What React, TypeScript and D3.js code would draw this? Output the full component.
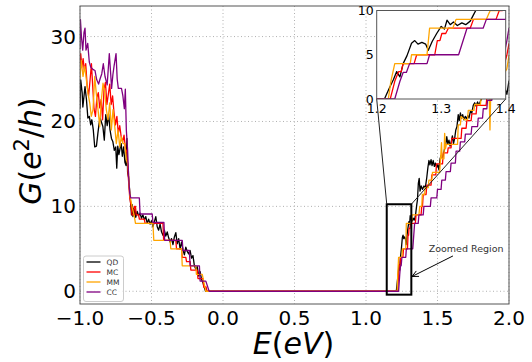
import React from "react";
import * as d3 from "d3";

type P = [number, number];

const xTicks = [-1.0, -0.5, 0.0, 0.5, 1.0, 1.5, 2.0];
const yTicks = [0, 10, 20, 30];
const insetXTicks = [1.2, 1.3, 1.4];
const insetYTicks = [0, 5, 10];
const xDomain: [number, number] = [-1, 2];
const yDomain: [number, number] = [-1.5, 33.6];
const insetXDomain: [number, number] = [1.2, 1.4];
const insetYDomain: [number, number] = [0, 10];

const seriesNames = ["QD", "MC", "MM", "CC"];
const seriesColors = ["black", "red", "orange", "purple"];

const qd: P[] = [
  [-1.0, 21.5], [-0.995, 24.9], [-0.985, 23.4], [-0.98, 21.7], [-0.972, 23.0], [-0.965, 24.1], [-0.955, 22.6],
  [-0.945, 20.4], [-0.935, 20.6], [-0.925, 19.6], [-0.917, 20.2], [-0.907, 19.0], [-0.897, 17.0], [-0.885, 17.1],
  [-0.875, 18.6], [-0.866, 19.8], [-0.858, 20.4], [-0.85, 19.9], [-0.84, 19.4], [-0.83, 17.8], [-0.82, 20.8],
  [-0.81, 19.5], [-0.8, 20.9], [-0.79, 19.0], [-0.78, 18.0], [-0.77, 17.6], [-0.76, 16.6], [-0.75, 17.0],
  [-0.743, 14.5], [-0.736, 17.1], [-0.728, 16.1], [-0.72, 16.8], [-0.712, 17.4], [-0.704, 15.9], [-0.695, 17.0],
  [-0.686, 15.2], [-0.678, 14.8], [-0.672, 18.0], [-0.667, 14.0], [-0.66, 13.4], [-0.653, 11.9], [-0.646, 10.4],
  [-0.64, 9.0], [-0.635, 10.2], [-0.63, 8.8], [-0.625, 9.8], [-0.62, 9.0], [-0.615, 9.6], [-0.61, 8.7],
  [-0.6, 9.4], [-0.59, 8.9], [-0.58, 9.2], [-0.57, 8.6], [-0.56, 9.0], [-0.55, 8.4], [-0.54, 8.8], [-0.53, 8.0],
  [-0.52, 8.5], [-0.51, 7.9], [-0.5, 8.3], [-0.49, 7.6], [-0.48, 8.2], [-0.47, 8.8], [-0.46, 7.6], [-0.45, 7.2],
  [-0.44, 7.9], [-0.43, 7.0], [-0.42, 6.6], [-0.41, 7.2], [-0.4, 6.5], [-0.39, 7.0], [-0.38, 6.3], [-0.37, 5.8],
  [-0.36, 6.2], [-0.35, 5.5], [-0.34, 6.4], [-0.33, 6.9], [-0.32, 5.6], [-0.31, 6.2], [-0.3, 5.0], [-0.29, 5.8],
  [-0.28, 4.9], [-0.27, 4.3], [-0.26, 5.2], [-0.25, 4.7], [-0.24, 4.4], [-0.23, 4.8], [-0.22, 3.9], [-0.21, 4.2],
  [-0.2, 3.0], [-0.19, 2.6], [-0.18, 2.9], [-0.17, 1.8], [-0.16, 2.3], [-0.15, 1.4], [-0.14, 1.0], [-0.13, 0.4],
  [-0.122, 0], [1.212, 0],
  [1.22, 1.3], [1.226, 2.2], [1.231, 3.1], [1.236, 2.5], [1.241, 4.0], [1.247, 4.9], [1.254, 6.3], [1.259, 6.6],
  [1.264, 6.2], [1.27, 6.4], [1.276, 6.2], [1.28, 5.5], [1.286, 6.5], [1.293, 7.4], [1.3, 8.2], [1.305, 7.9],
  [1.309, 8.9], [1.314, 8.4], [1.319, 8.7], [1.325, 8.3], [1.332, 8.6], [1.338, 8.4], [1.345, 8.8], [1.35, 9.5],
  [1.355, 10.2], [1.36, 10.8], [1.366, 12.7], [1.372, 13.3], [1.378, 11.8], [1.386, 12.4], [1.395, 12.0],
  [1.405, 12.4], [1.415, 12.2], [1.425, 13.4], [1.433, 14.6], [1.44, 15.4], [1.447, 14.9], [1.455, 15.5],
  [1.462, 14.8], [1.47, 15.4], [1.478, 14.7], [1.486, 15.1], [1.494, 14.6], [1.502, 14.9], [1.51, 14.3],
  [1.518, 15.6], [1.526, 16.0], [1.534, 15.7], [1.542, 16.2], [1.55, 16.8], [1.558, 17.4], [1.565, 18.2],
  [1.572, 17.3], [1.58, 17.8], [1.588, 17.1], [1.596, 17.6], [1.604, 18.3], [1.612, 17.4], [1.62, 18.0],
  [1.628, 19.0], [1.636, 19.4], [1.645, 20.8], [1.652, 20.1], [1.66, 21.0], [1.668, 20.4], [1.676, 20.8],
  [1.685, 20.2], [1.694, 20.6], [1.703, 20.3], [1.712, 20.7], [1.72, 20.4], [1.73, 21.2], [1.74, 21.0],
  [1.75, 21.9], [1.76, 22.2], [1.77, 21.8], [1.78, 22.3], [1.79, 21.9], [1.8, 22.4], [1.81, 22.7], [1.83, 23.3],
  [1.86, 24.0], [1.9, 24.6], [1.94, 25.4], [1.97, 24.0], [1.985, 23.2], [2.0, 24.8],
];

const mc: P[] = [
  [-1.0, 26.5], [-0.995, 28.0], [-0.987, 26.4], [-0.978, 27.4], [-0.97, 26.0], [-0.96, 26.8], [-0.95, 24.2],
  [-0.94, 23.0], [-0.93, 24.8], [-0.92, 26.8], [-0.912, 24.4], [-0.902, 21.5], [-0.892, 20.6], [-0.882, 22.8],
  [-0.872, 23.4], [-0.862, 21.6], [-0.852, 22.6], [-0.842, 20.2], [-0.832, 23.8], [-0.822, 24.6], [-0.812, 22.0],
  [-0.802, 23.2], [-0.792, 24.4], [-0.782, 22.0], [-0.772, 23.0], [-0.762, 21.0], [-0.752, 19.6], [-0.742, 20.6],
  [-0.732, 18.6], [-0.722, 19.5], [-0.712, 18.2], [-0.702, 17.6], [-0.692, 18.4], [-0.682, 16.8], [-0.672, 16.4],
  [-0.662, 13.4], [-0.652, 11.0], [-0.642, 10.0], [-0.636, 9.0], [-0.625, 9.0], [-0.62, 10.0], [-0.612, 10.0],
  [-0.607, 9.0], [-0.59, 9.0], [-0.585, 8.5], [-0.55, 8.5], [-0.545, 8.0], [-0.42, 8.0], [-0.415, 6.0],
  [-0.33, 6.0], [-0.325, 5.0], [-0.29, 5.0], [-0.285, 4.0], [-0.26, 4.0], [-0.255, 3.5], [-0.23, 3.5],
  [-0.225, 2.5], [-0.18, 2.5], [-0.175, 1.5], [-0.14, 1.5], [-0.135, 0.5], [-0.118, 0.5], [-0.112, 0],
  [1.221, 0],
  [1.228, 2.0], [1.234, 3.1], [1.238, 3.1], [1.241, 4.0], [1.258, 4.0], [1.262, 5.0], [1.29, 5.0], [1.294, 6.6],
  [1.298, 6.6], [1.301, 7.4], [1.307, 7.4], [1.311, 8.0], [1.345, 8.0], [1.35, 9.0], [1.385, 9.0], [1.39, 10.0],
  [1.395, 10.0], [1.4, 11.4], [1.42, 11.4], [1.425, 12.5], [1.455, 12.5], [1.46, 13.7], [1.488, 13.7],
  [1.493, 15.0], [1.535, 15.0], [1.54, 16.3], [1.57, 16.3], [1.575, 16.9], [1.595, 16.9], [1.6, 18.0],
  [1.665, 18.0], [1.67, 19.2], [1.7, 19.2], [1.705, 20.1], [1.735, 20.1], [1.74, 20.9], [1.77, 20.9],
  [1.775, 21.9], [1.84, 21.9], [1.845, 22.8], [1.9, 24.0], [1.95, 25.8], [1.985, 27.8], [2.0, 29.2],
];

const mm: P[] = [
  [-1.0, 25.0], [-0.998, 25.7], [-0.991, 27.2], [-0.979, 25.3], [-0.967, 26.5], [-0.956, 25.0], [-0.944, 23.3],
  [-0.932, 22.2], [-0.921, 20.6], [-0.909, 21.4], [-0.897, 25.3], [-0.886, 23.3], [-0.874, 21.4], [-0.862, 19.4],
  [-0.851, 22.5], [-0.839, 24.5], [-0.827, 23.5], [-0.816, 21.4], [-0.804, 20.2], [-0.792, 22.2], [-0.781, 19.0],
  [-0.769, 21.4], [-0.757, 19.4], [-0.746, 17.4], [-0.734, 19.0], [-0.722, 17.0], [-0.711, 18.2], [-0.699, 17.4],
  [-0.687, 17.4], [-0.676, 15.5], [-0.664, 14.9], [-0.652, 11.4], [-0.641, 10.4], [-0.63, 9.5], [-0.622, 9.0],
  [-0.612, 8.0], [-0.49, 8.0], [-0.484, 6.0], [-0.37, 6.0], [-0.365, 5.0], [-0.29, 5.0], [-0.285, 3.0],
  [-0.19, 3.0], [-0.186, 2.0], [-0.145, 2.0], [-0.12, 0],
  [1.218, 0],
  [1.222, 2.0], [1.228, 4.0], [1.252, 4.0], [1.254, 5.0], [1.278, 5.0], [1.282, 8.0], [1.318, 8.0], [1.323, 9.0],
  [1.37, 9.0], [1.376, 10.0], [1.39, 10.0], [1.394, 11.4], [1.41, 11.4], [1.414, 12.2], [1.435, 12.2],
  [1.44, 13.1], [1.46, 13.1], [1.465, 14.0], [1.515, 14.0], [1.52, 15.2], [1.528, 17.5], [1.532, 15.6],
  [1.545, 15.6], [1.55, 18.6], [1.556, 16.8], [1.562, 17.3], [1.64, 17.3], [1.645, 19.6], [1.66, 19.6],
  [1.665, 20.6], [1.69, 20.2], [1.71, 20.2], [1.715, 21.3], [1.755, 21.3], [1.76, 22.0], [1.8, 22.0],
  [1.805, 22.8], [1.862, 22.8], [1.867, 19.0], [1.872, 23.2], [1.92, 24.2], [1.96, 25.5], [1.985, 26.2],
  [2.0, 27.8],
];

const cc: P[] = [
  [-1.0, 28.5], [-0.997, 32.0], [-0.99, 30.0], [-0.981, 28.4], [-0.972, 30.5], [-0.965, 31.0], [-0.958, 28.4],
  [-0.946, 29.2], [-0.935, 27.0], [-0.925, 26.4], [-0.907, 26.1], [-0.895, 26.0], [-0.883, 24.9], [-0.87, 24.4],
  [-0.86, 25.0], [-0.848, 25.6], [-0.837, 26.8], [-0.825, 25.3], [-0.81, 24.3], [-0.795, 28.0], [-0.785, 25.5],
  [-0.779, 23.9], [-0.77, 25.5], [-0.762, 26.5], [-0.748, 28.0], [-0.74, 25.0], [-0.732, 23.9], [-0.71, 23.9],
  [-0.7, 23.0], [-0.69, 21.5], [-0.683, 23.8], [-0.676, 19.0], [-0.667, 16.6], [-0.66, 13.5], [-0.652, 11.5],
  [-0.645, 11.0], [-0.585, 11.0], [-0.58, 9.1], [-0.495, 9.1], [-0.49, 8.1], [-0.413, 8.1], [-0.408, 6.0],
  [-0.285, 6.0], [-0.28, 4.8], [-0.235, 4.8], [-0.23, 3.0], [-0.165, 3.0], [-0.16, 1.2], [-0.12, 1.2],
  [-0.097, 0],
  [1.228, 0],
  [1.236, 2.0], [1.241, 3.0], [1.246, 3.0], [1.251, 4.0], [1.278, 4.0], [1.282, 5.0], [1.327, 5.0], [1.34, 8.0],
  [1.365, 8.0], [1.37, 9.0], [1.4, 9.0], [1.405, 10.0], [1.45, 10.0], [1.455, 11.0], [1.495, 11.0], [1.5, 12.0],
  [1.525, 12.0], [1.53, 13.1], [1.555, 13.1], [1.56, 14.1], [1.59, 14.1], [1.595, 15.1], [1.625, 15.1],
  [1.63, 16.5], [1.655, 16.5], [1.66, 17.6], [1.69, 17.6], [1.695, 18.5], [1.735, 18.5], [1.74, 19.4],
  [1.78, 19.4], [1.785, 20.4], [1.815, 20.4], [1.82, 21.5], [1.845, 21.5], [1.85, 22.5], [1.88, 22.5],
  [1.885, 24.0], [1.93, 26.0], [1.96, 27.5], [1.985, 29.5], [2.0, 31.0],
];

// zoomed region box (data units) and annotation
const zoomBoxE = [1.145, 1.317];
const zoomBoxG = [-0.4, 10.25];
const annotationText = "Zoomed Region";
const annotationTextPos: P = [1.70, 4.66];
const annotationTail: P = [1.608, 4.16];
const annotationTip: P = [1.322, 1.74];

const W = 532;
const H = 362;
const M = { left: 80, right: 509, top: 6, bottom: 304 };
const INS = { left: 376.7, right: 505.7, top: 10.5, bottom: 99 };
const FONT = "DejaVu Sans";

export default function App() {
  const series = [qd, mc, mm, cc];
  const x = d3.scaleLinear().domain(xDomain).range([M.left, M.right]);
  const y = d3.scaleLinear().domain(yDomain).range([M.bottom, M.top]);
  const xi = d3.scaleLinear().domain(insetXDomain).range([INS.left, INS.right]);
  const yi = d3.scaleLinear().domain(insetYDomain).range([INS.bottom, INS.top]);
  const lineMain = d3.line<P>().x((d) => x(d[0])).y((d) => y(d[1]));
  const lineInset = d3.line<P>().x((d) => xi(d[0])).y((d) => yi(d[1]));
  const fx = d3.format(".1f");
  const fy = d3.format("d");

  const bx0 = x(zoomBoxE[0]);
  const bx1 = x(zoomBoxE[1]);
  const by0 = y(zoomBoxG[1]);
  const by1 = y(zoomBoxG[0]);

  const tail = [x(annotationTail[0]), y(annotationTail[1])];
  const tip = [x(annotationTip[0]), y(annotationTip[1])];
  const ang = Math.atan2(tip[1] - tail[1], tip[0] - tail[0]);
  const hl = 7;
  const hw = 0.45;
  const h1 = [tip[0] - hl * Math.cos(ang - hw), tip[1] - hl * Math.sin(ang - hw)];
  const h2 = [tip[0] - hl * Math.cos(ang + hw), tip[1] - hl * Math.sin(ang + hw)];

  const legendX = 83.5;
  const legendY = 256;

  return (
    <svg
      width={W}
      height={H}
      style={{ position: "absolute", left: 0, top: 0, background: "white" }}
      fontFamily={FONT}
    >
      <defs>
        <clipPath id="mainClip">
          <rect x={M.left} y={M.top} width={M.right - M.left} height={M.bottom - M.top} />
        </clipPath>
        <clipPath id="insetClip">
          <rect x={INS.left} y={INS.top} width={INS.right - INS.left} height={INS.bottom - INS.top} />
        </clipPath>
      </defs>
      <rect x={0} y={0} width={W} height={H} fill="white" />

      {/* grid */}
      <g stroke="#b0b0b0" strokeWidth={1} strokeDasharray="1,2.5">
        {xTicks.map((t) => (
          <line key={"gx" + t} x1={x(t)} x2={x(t)} y1={M.top} y2={M.bottom} />
        ))}
        {yTicks.map((t) => (
          <line key={"gy" + t} x1={M.left} x2={M.right} y1={y(t)} y2={y(t)} />
        ))}
      </g>

      {/* series */}
      <g clipPath="url(#mainClip)" fill="none" strokeWidth={1.3} strokeLinejoin="round">
        {series.map((s, i) => (
          <path key={seriesNames[i]} d={lineMain(s) || ""} stroke={seriesColors[i]} />
        ))}
      </g>

      {/* zoom box */}
      <rect x={bx0} y={by0} width={bx1 - bx0} height={by1 - by0} fill="none" stroke="black" strokeWidth={2} />

      {/* connectors */}
      <g stroke="#222" strokeWidth={1}>
        <line x1={bx0} y1={by0} x2={INS.left} y2={INS.bottom} />
        <line x1={bx1} y1={by0} x2={INS.right} y2={INS.bottom} />
      </g>

      {/* spines */}
      <rect
        x={M.left}
        y={M.top}
        width={M.right - M.left}
        height={M.bottom - M.top}
        fill="none"
        stroke="#555"
        strokeWidth={1}
      />

      {/* tick labels */}
      <g fontSize={20} fill="black">
        {xTicks.map((t) => (
          <text key={"tx" + t} x={x(t)} y={M.bottom + 21} textAnchor="middle">
            {fx(t)}
          </text>
        ))}
        {yTicks.map((t) => (
          <text key={"ty" + t} x={M.left - 4} y={y(t) + 7} textAnchor="end">
            {fy(t)}
          </text>
        ))}
      </g>

      {/* axis labels */}
      <text x={(M.left + M.right) / 2 - 1} y={354} fontSize={30} textAnchor="middle">
        <tspan fontStyle="italic">E</tspan>
        <tspan>(</tspan>
        <tspan fontStyle="italic">eV</tspan>
        <tspan>)</tspan>
      </text>
      <text transform={`translate(41, ${(M.top + M.bottom) / 2 - 4}) rotate(-90)`} fontSize={30} textAnchor="middle">
        <tspan fontStyle="italic">G</tspan>
        <tspan>(</tspan>
        <tspan fontStyle="italic">e</tspan>
        <tspan fontSize={21} dy={-12}>2</tspan>
        <tspan dy={12}>/</tspan>
        <tspan fontStyle="italic">h</tspan>
        <tspan>)</tspan>
      </text>

      {/* annotation */}
      <text
        x={x(annotationTextPos[0])}
        y={y(annotationTextPos[1])}
        fontSize={9.5}
        textAnchor="middle"
        fill="#333"
      >
        {annotationText}
      </text>
      <g stroke="black" strokeWidth={1} fill="none">
        <line x1={tail[0]} y1={tail[1]} x2={tip[0]} y2={tip[1]} />
        <polyline points={`${h1[0]},${h1[1]} ${tip[0]},${tip[1]} ${h2[0]},${h2[1]}`} />
      </g>

      {/* legend */}
      <g>
        <rect
          x={legendX}
          y={legendY}
          width={40}
          height={45.5}
          rx={2.5}
          fill="white"
          fillOpacity={0.8}
          stroke="#cccccc"
          strokeWidth={1}
        />
        {seriesNames.map((n, i) => (
          <g key={"lg" + n}>
            <line
              x1={legendX + 3}
              x2={legendX + 17}
              y1={legendY + 6 + i * 10}
              y2={legendY + 6 + i * 10}
              stroke={seriesColors[i]}
              strokeWidth={1.3}
            />
            <text x={legendX + 23} y={legendY + 8.7 + i * 10} fontSize={7.5} fill="#333">
              {n}
            </text>
          </g>
        ))}
      </g>

      {/* inset */}
      <rect
        x={INS.left}
        y={INS.top}
        width={INS.right - INS.left}
        height={INS.bottom - INS.top}
        fill="white"
      />
      <g clipPath="url(#insetClip)" fill="none" strokeWidth={1.3} strokeLinejoin="round">
        {series.map((s, i) => (
          <path key={"in" + seriesNames[i]} d={lineInset(s) || ""} stroke={seriesColors[i]} />
        ))}
      </g>
      <rect
        x={INS.left}
        y={INS.top}
        width={INS.right - INS.left}
        height={INS.bottom - INS.top}
        fill="none"
        stroke="#555"
        strokeWidth={1}
      />
      <g fontSize={12.5} fill="black">
        {insetXTicks.map((t) => (
          <text key={"itx" + t} x={xi(t)} y={INS.bottom + 14} textAnchor="middle">
            {fx(t)}
          </text>
        ))}
        {insetYTicks.map((t) => (
          <text key={"ity" + t} x={INS.left - 3} y={yi(t) + 4.5} textAnchor="end">
            {fy(t)}
          </text>
        ))}
      </g>
    </svg>
  );
}
